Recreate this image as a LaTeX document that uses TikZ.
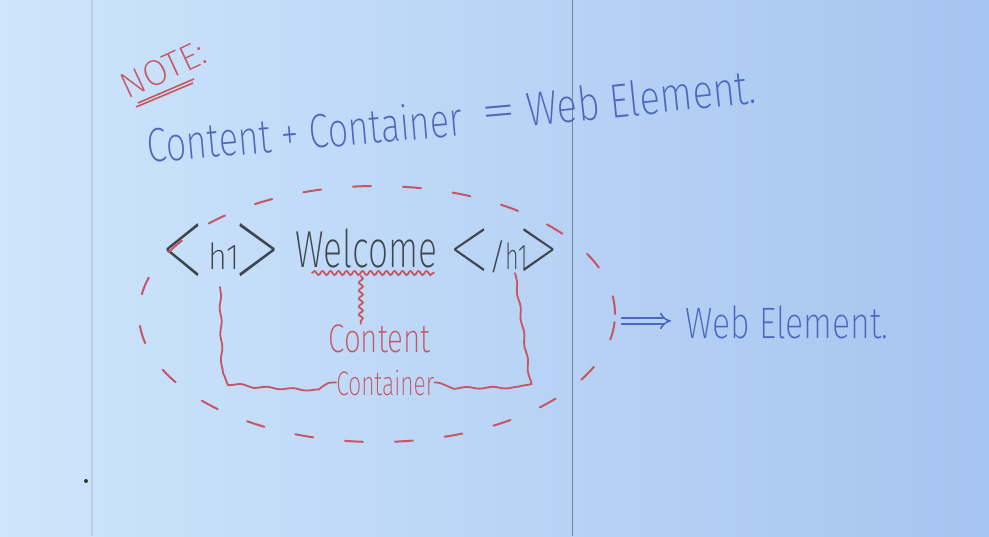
\documentclass[tikz,border=0pt]{standalone}
\usepackage{fontspec}
\usepackage{graphicx}
\usetikzlibrary{shapes.geometric,decorations.pathmorphing,arrows.meta,calc}
\newfontfamily\hand{Fira Sans ExtraLight}
\newfontfamily\thinhand{Fira Sans Thin}
\definecolor{boardL}{RGB}{206,229,251}
\definecolor{boardR}{RGB}{166,196,240}
\definecolor{boardMid}{RGB}{180,208,243}
\definecolor{inkblue}{RGB}{80,102,190}
\definecolor{inkdark}{RGB}{60,70,76}
\definecolor{inkred}{RGB}{198,86,98}
\definecolor{seamcol}{RGB}{120,136,156}
% squeeze text horizontally, like narrow handwriting
\newcommand\hs[2]{\scalebox{#1}[1]{#2}}
% tall angle brackets of the html tags: {xscale}{yscale}{lowering}{glyph}
\newcommand\tagbr[4]{\raisebox{-#3}{\thinhand\fontsize{50}{50}\selectfont\scalebox{#1}[#2]{#4}}}
\begin{document}
\begin{tikzpicture}[x=0.5pt,y=-0.5pt,
  txt/.style={font=\hand, inner sep=0pt, anchor=base west},
  blueink/.style={txt, text=inkblue},
  redink/.style={txt, text=inkred},
  darkink/.style={txt, text=inkdark},
  wavy/.style={draw=inkred, line width=0.9pt, line cap=round, decorate,
    decoration={snake, amplitude=0.45pt, segment length=13pt}},
  squiggle/.style={wavy, decoration={snake, amplitude=1pt, segment length=4pt}},
  ring/.style={draw=inkred, line width=1pt, line cap=round, dash pattern=on 9pt off 16pt},
  implies/.style={draw=inkblue, line width=0.8pt, double=boardMid, double distance=2pt, -{Implies}}]
\useasboundingbox (0,0) rectangle (989,536);
% whiteboard
\shade[left color=boardL, right color=boardR] (0,0) rectangle (989,536);
\draw[seamcol!25!boardL, line width=0.6pt] (92,0) -- (92,536);
\draw[seamcol, line width=0.5pt] (572,0) -- (572,536);
\fill[black!80] (86,481) circle (2);

% heading
\node[redink, font=\hand\fontsize{18}{21}\selectfont, rotate=25] (note) at (127,100) {NOTE:};
\draw[inkred, line width=0.8pt] (136,107) -- (193,83);
\draw[inkred, line width=0.8pt] (138,103) -- (194,79);

\node[blueink, font=\hand\fontsize{24}{28}\selectfont, rotate=5] (sumL) at (148,163) {\hs{0.75}{Content + Container}};
\node[blueink, font=\hand\fontsize{24}{28}\selectfont, rotate=5] (eq) at (482,129) {\hs{1.5}{=}};
\node[blueink, font=\hand\fontsize{24}{28}\selectfont, rotate=6] (webA) at (528,127) {\hs{0.8}{Web Element.}};

% the html element
\node[darkink, font=\hand\fontsize{18}{22}\selectfont] (openTag) at (159,269)
  {\tagbr{0.95}{1.55}{16.4pt}{<}\kern1pt\hs{0.9}{h1}\kern-4pt\tagbr{1.05}{1.55}{16.4pt}{>}};
\node[darkink, font=\hand\fontsize{26}{30}\selectfont] (word) at (295,267) {\hs{0.68}{Welcome}};
\node[darkink, font=\hand\fontsize{18}{22}\selectfont] (closeTag) at (447,269)
  {\tagbr{0.9}{1.25}{11pt}{<}\kern-1.5pt/\kern-1pt\hs{0.65}{h1}\kern-6pt\tagbr{0.9}{1.25}{11pt}{>}};

\node[redink, font=\hand\fontsize{20}{24}\selectfont] (content) at (328,352) {\hs{0.74}{Content}};
\node[redink, font=\hand\fontsize{17}{20}\selectfont] (container) at (336,395) {\hs{0.67}{Container}};

% content marker
\coordinate (ulL) at ($(word.base west)+(17,6)$);
\coordinate (ulR) at ($(word.base west)+(139,6)$);
\draw[squiggle] (ulL) -- (ulR);
\coordinate (stub) at ($(ulL)!0.4!(ulR)+(0,3)$);
\draw[squiggle] (stub) -- (stub |- content.north);

% container brackets
\draw[wavy] ($(openTag.base west)+(61,18)$) -- ++(2,82) to[out=-90,in=170] ++(26,9) -- (container.west);
\draw[wavy] ($(closeTag.base west)+(68,4)$) -- ++(14,100) to[out=-90,in=0] ++(-12,9) -- (container.east);

% the whole element
\node[ring, ellipse, minimum width=238pt, minimum height=128pt, inner sep=0pt] (frame) at (377,314) {};

\node[blueink, font=\hand\fontsize{22}{26}\selectfont] (webB) at (685,338) {\hs{0.77}{Web Element.}};
\draw[implies] ($(frame.east)+(5,7)$) -- ($(webB.base west)+(-14,-17)$);
\end{tikzpicture}
\end{document}
